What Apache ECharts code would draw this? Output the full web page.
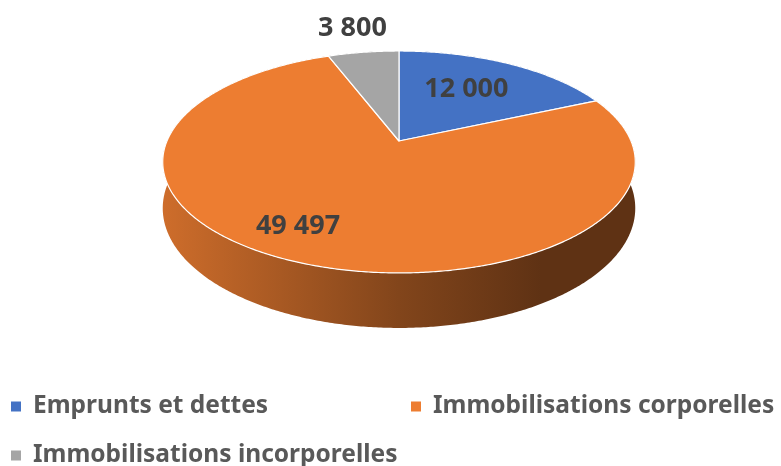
<!DOCTYPE html>
<html>
<head>
<meta charset="utf-8">
<script src="https://cdn.jsdelivr.net/npm/echarts@6/dist/echarts.min.js"></script>
<style>
  html, body { margin: 0; padding: 0; background: #fff; }
  #chart { width: 781px; height: 466px; }
</style>
</head>
<body>
<div id="chart"></div>
<script>
const categories = ['Emprunts et dettes', 'Immobilisations corporelles', 'Immobilisations incorporelles']
const values = [12000, 49497, 3800]
const colors = ['#4472c4', '#ed7d31', '#a5a5a5']

// projection of the tilted disc (perspective like the office 3D pie)
const CX = 399
const CY = 141
const RX = 232
const RY = 107
const PERSP = 0.189
const DEPTH = 44.6
// label placement: radius fraction + nudge in px
const labelRadius = [0.6, 0.75, 1.0]
const labelNudge = [[-2, -3], [-24, 0], [-11, -24]]

const total = values.reduce((a, b) => a + b, 0)
const starts = []
values.reduce((acc, v, i) => { starts[i] = acc; return acc + v }, 0)

function project(r, theta, drop) {
  const d = 1 + PERSP * r * Math.cos(theta)
  return [
    CX + RX * r * Math.sin(theta) / d,
    CY - RY * r * Math.cos(theta) / d + (drop || 0) / d
  ]
}

function arc(a0, a1, drop) {
  const pts = []
  const n = Math.max(2, Math.ceil((a1 - a0) / (Math.PI / 360)))
  for (let j = 0; j <= n; j++) {
    pts.push(project(1, a0 + (a1 - a0) * j / n, drop))
  }
  return pts
}

function shade(hex, f) {
  const n = parseInt(hex.slice(1), 16)
  const c = [(n >> 16) & 255, (n >> 8) & 255, n & 255].map(x => Math.round(x * f))
  return 'rgb(' + c.join(',') + ')'
}

function fmt(v) {
  return String(v).replace(/\B(?=(\d{3})+(?!\d))/g, ' ')
}

function angles(i, v) {
  const a0 = starts[i] / total * Math.PI * 2
  return [a0, a0 + v / total * Math.PI * 2]
}

function renderSide(params, api) {
  const i = params.dataIndex
  const [a0, a1] = angles(i, api.value(0))
  const top = arc(a0, a1, 0)
  const bottom = arc(a0, a1, DEPTH).reverse()
  return {
    type: 'polygon',
    shape: { points: top.concat(bottom) },
    style: {
      fill: new echarts.graphic.LinearGradient(CX - 237, 0, CX + 237, 0, [
        { offset: 0, color: shade(colors[i], 0.87) },
        { offset: 0.5, color: shade(colors[i], 0.55) },
        { offset: 0.8, color: shade(colors[i], 0.4) },
        { offset: 1, color: shade(colors[i], 0.4) }
      ], true),
      stroke: null
    }
  }
}

function makeTop(i) {
  return function (params, api) {
    const v = api.value(0)
    const [a0, a1] = angles(i, v)
    const pts = [project(0, 0)].concat(arc(a0, a1, 0))
    const mid = (a0 + a1) / 2
    const p = project(labelRadius[i], mid)
    return {
      type: 'group',
      children: [
        {
          type: 'polygon',
          shape: { points: pts },
          style: { fill: colors[i], stroke: '#fff', lineWidth: 1.2, lineJoin: 'round' }
        },
        {
          type: 'text',
          x: p[0] + labelNudge[i][0],
          y: p[1] + labelNudge[i][1],
          style: {
            text: fmt(v),
            fill: '#404040',
            font: 'bold 27px "Noto Sans"',
            align: 'center',
            verticalAlign: 'middle'
          }
        }
      ]
    }
  }
}

const legendBase = {
  icon: 'rect',
  itemWidth: 10,
  itemHeight: 10,
  selectedMode: false,
  textStyle: {
    fontFamily: 'Noto Sans',
    fontWeight: 'bold',
    fontSize: 24.5,
    color: '#595959',
    padding: [0, 0, 0, 7]
  }
}

const option = {
  animation: false,
  legend: [
    Object.assign({}, legendBase, { data: [categories[0]], left: 6, top: 389 }),
    Object.assign({}, legendBase, { data: [categories[1]], left: 406, top: 389 }),
    Object.assign({}, legendBase, { data: [categories[2]], left: 6, top: 438 })
  ],
  series: [
    {
      type: 'custom',
      name: 'side',
      coordinateSystem: 'none',
      silent: true,
      z: 1,
      data: values,
      renderItem: renderSide
    }
  ].concat(categories.map((name, i) => ({
    type: 'custom',
    name: name,
    coordinateSystem: 'none',
    silent: true,
    z: 2,
    itemStyle: { color: colors[i] },
    data: [values[i]],
    renderItem: makeTop(i)
  })))
}

const chart = echarts.init(document.getElementById('chart'))
chart.setOption(option)
</script>
</body>
</html>
